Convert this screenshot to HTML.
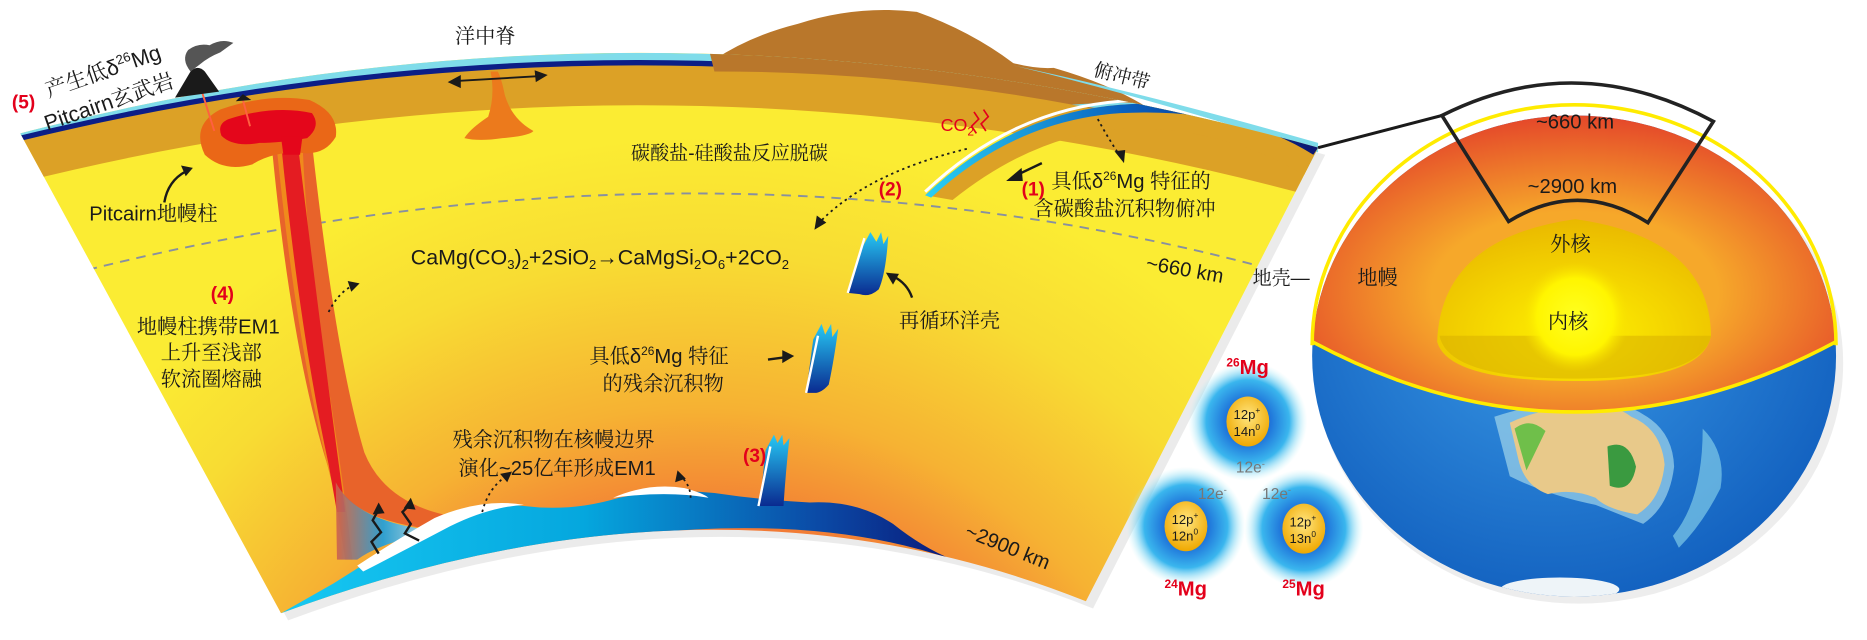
<!DOCTYPE html>
<html><head><meta charset="utf-8"><style>
html,body{margin:0;padding:0;background:#fff;}
svg{display:block}
text{font-family:"Liberation Sans","Noto Sans CJK SC",sans-serif;fill:#1a1a1a}
.cn{font-family:"Liberation Sans","Noto Serif CJK SC","Noto Sans CJK SC",serif}
.red{fill:#e3001b;font-weight:bold}
</style></head><body>
<svg width="1867" height="640" viewBox="0 0 1568 537.5" preserveAspectRatio="none" xmlns="http://www.w3.org/2000/svg">
<defs>
<radialGradient id="mant" cx="590" cy="760" r="760" gradientUnits="userSpaceOnUse">
<stop offset="0.3" stop-color="#ee3b3b"/>
<stop offset="0.42" stop-color="#f27a35"/>
<stop offset="0.55" stop-color="#f6b233"/>
<stop offset="0.72" stop-color="#f8dc33"/>
<stop offset="0.85" stop-color="#fbec33"/>
</radialGradient>
<linearGradient id="pile" x1="0" x2="1" y1="0" y2="0">
<stop offset="0" stop-color="#17c8f2"/><stop offset="0.45" stop-color="#05a7de"/><stop offset="0.8" stop-color="#0b4aa6"/><stop offset="1" stop-color="#0a1a7a"/>
</linearGradient>
<linearGradient id="slabg" x1="0" x2="1"><stop offset="0" stop-color="#2ad0f5"/><stop offset="0.5" stop-color="#0a63c0"/><stop offset="1" stop-color="#0b1670"/></linearGradient>
<linearGradient id="frag" x1="0" x2="0" y1="0" y2="1"><stop offset="0" stop-color="#27c9f4"/><stop offset="1" stop-color="#0a2a90"/></linearGradient>
<linearGradient id="plumeblue" x1="0" x2="1"><stop offset="0" stop-color="#d0604a"/><stop offset="0.45" stop-color="#1a9ee0"/><stop offset="1" stop-color="#d9eef7"/></linearGradient>
<radialGradient id="globeIn" cx="0.5" cy="0.6" r="0.6"><stop offset="0.45" stop-color="#f6a82a"/><stop offset="1" stop-color="#e4452a"/></radialGradient>
<radialGradient id="outerCore" cx="0.5" cy="0.7" r="0.7"><stop offset="0" stop-color="#fff200"/><stop offset="1" stop-color="#e9b800"/></radialGradient>
<radialGradient id="innerCore" cx="0.5" cy="0.5" r="0.5"><stop offset="0" stop-color="#ffff20"/><stop offset="0.7" stop-color="#fff500"/><stop offset="1" stop-color="#f6dd00" stop-opacity="0"/></radialGradient>
<radialGradient id="ocean" cx="0.45" cy="0.4" r="0.7"><stop offset="0" stop-color="#3a9ae6"/><stop offset="1" stop-color="#0b56b8"/></radialGradient>
<radialGradient id="atom" cx="0.5" cy="0.5" r="0.5"><stop offset="0.35" stop-color="#1d6fd8"/><stop offset="0.7" stop-color="#3ab6ee"/><stop offset="1" stop-color="#b8f2f8" stop-opacity="0"/></radialGradient>
<radialGradient id="nuc" cx="0.5" cy="0.4" r="0.6"><stop offset="0" stop-color="#ffe680"/><stop offset="1" stop-color="#f0a800"/></radialGradient>
<clipPath id="sec"><path d="M17,112 Q560,-29 1107,124 L912,505 Q600,380 236,515 Z"/></clipPath>
<clipPath id="glob"><ellipse cx="1322" cy="299" rx="220" ry="202"/></clipPath>
</defs>

<path d="M17,112 Q560,-29 1107,124 L912,505 Q600,380 236,515 Z" fill="#000" opacity="0.08" transform="translate(6,6)"/>
<path d="M600,50 Q630,30 670,20 Q720,4 770,10 Q815,26 851,53 Q870,58 885,57 Q930,70 960,88 L960,100 Q780,40 600,60 Z" fill="#b9772b"/>
<path d="M851,55 Q960,78 1107,120 L1107,128 Q990,90 880,62 Z" fill="#7fdcea"/>
<g clip-path="url(#sec)">
<rect x="0" y="0" width="1120" height="540" fill="url(#mant)"/>
<path d="M0,140 Q560,-3 1120,152" stroke="#dca126" stroke-width="34" fill="none"/>
<path d="M0,120 Q560,-21 1120,132" stroke="#0c1e86" stroke-width="5" fill="none"/>
<path d="M0,115 Q560,-26 1120,127" stroke="#7fdcea" stroke-width="6" fill="none"/>
<path d="M595,40 Q780,20 960,80 L1000,92 L960,100 Q780,60 600,60 Z" fill="#b9772b"/>
<path d="M1107,110 L1107,140 Q1040,96 945,94 L900,88 Q1000,80 1107,110 Z" fill="#7fdcea"/>
<path d="M1107,124 Q1040,80 941,88 Q850,95 777,164 L800,168 Q870,112 945,108 Q1030,106 1100,150 Z" fill="#dca126"/>
<path d="M1107,124 Q1040,80 941,88 Q850,95 777,164 L782,166 Q852,101 941,95 Q1040,90 1103,130 Z" fill="url(#slabg)"/>
<path d="M1107,121 Q1040,77 941,85 Q850,92 777,161" stroke="#fff" stroke-width="2.5" fill="none"/>
<path d="M60,230 Q580,98 1060,224" stroke="#8890a0" stroke-width="1.6" stroke-dasharray="8,6" fill="none"/>
<path d="M228,120 Q245,300 278,400 Q295,442 385,446 L372,432 Q322,420 306,380 Q282,300 262,120 Z" fill="#e8632a"/>
<path d="M232,120 Q250,300 280,410 L290,470 L296,470 Q288,400 272,300 Q258,210 254,120 Z" fill="#f08a1c"/>
<path d="M236,120 Q252,280 276,390 L283,430 L290,430 Q272,300 250,120 Z" fill="#e41c22"/>
<path d="M283,470 L282,405 Q300,440 370,446 Q320,455 300,470 Z" fill="url(#plumeblue)" opacity="0.9"/>
<path d="M280,490 Q320,465 360,440 Q400,420 440,425 Q480,430 520,418 Q560,410 600,414 Q640,420 680,422 Q720,420 750,440 Q775,460 800,470 Q600,400 236,515 Z" fill="url(#pile)"/>
<path d="M300,475 Q335,452 365,435 Q405,418 440,424 Q410,426 378,442 Q340,462 305,480 Z" fill="#fff"/>
<path d="M515,418 Q545,405 575,410 Q590,414 595,418 Q560,412 515,418 Z" fill="#fff"/>
<path d="M185,92 Q225,78 260,84 Q285,95 282,115 Q272,132 250,128 Q228,128 212,138 Q188,145 172,130 Q160,105 185,92 Z" fill="#ea6717"/>
<path d="M192,100 Q230,88 262,95 Q270,106 258,116 Q235,120 218,120 Q196,124 186,114 Q182,104 192,100 Z" fill="#e4061b"/>
<path d="M236,115 L238,130 L252,130 L254,115 Z" fill="#e4061b"/>
<line x1="168" y1="72" x2="180" y2="110" stroke="#ff6040" stroke-width="1.6"/>
<line x1="204" y1="84" x2="210" y2="106" stroke="#ff6040" stroke-width="1.6"/>
<path d="M412,60 Q416,80 410,98 Q395,108 390,116 Q402,119 422,116 Q445,114 448,110 Q430,100 424,80 Q421,65 418,60 Z" fill="#ec7a1c"/>
<path d="M722,212 L731,195 L736,203 L740,195 L742,205 L746,198 Q744,230 738,243 Q730,250 722,247 L712,246 Z" fill="url(#frag)"/>
<path d="M712,246 L726,200" stroke="#fff" stroke-width="2"/>
<path d="M683,285 L690,272 L693,281 L698,272 L699,283 L704,276 Q700,305 696,323 Q690,330 684,330 L677,330 Z" fill="url(#frag)"/>
<path d="M677,330 L687,282" stroke="#fff" stroke-width="2"/>
<path d="M643,378 L650,365 L653,372 L657,365 L658,374 L663,368 Q660,395 658,425 L638,425 Z" fill="url(#frag)"/>
<path d="M637,425 L647,375" stroke="#fff" stroke-width="2"/>
</g>

<path d="M147,82 L160,60 Q166,54 172,60 L184,77 Z" fill="#1a1a1a"/>
<path d="M198,85 L204,79 L211,84 Z" fill="#1a1a1a"/>
<path d="M160,60 Q152,50 158,42 Q166,36 176,38 Q186,32 196,36 L185,44 Q175,48 168,54 Z" fill="#555"/>
<path d="M384,68 L452,64" stroke="#1a1a1a" stroke-width="1.6"/>
<path d="M376,69 L387,63 L387,74 Z M460,63 L449,59 L450,69 Z" fill="#1a1a1a"/>
<path d="M875,137 L852,148" stroke="#1a1a1a" stroke-width="2"/>
<path d="M845,152 L858,141 L859,152 Z" fill="#1a1a1a"/>
<path d="M922,100 Q930,115 940,130" stroke="#1a1a1a" stroke-width="1.5" stroke-dasharray="2,3" fill="none"/>
<path d="M944,137 L936,127 L945,126 Z" fill="#1a1a1a"/>
<path d="M812,125 Q730,145 690,185" stroke="#1a1a1a" stroke-width="1.5" stroke-dasharray="2,3" fill="none"/>
<path d="M684,193 L686,181 L694,187 Z" fill="#1a1a1a"/>
<path d="M276,262 Q284,246 296,240" stroke="#1a1a1a" stroke-width="1.5" stroke-dasharray="2,3" fill="none"/>
<path d="M302,238 L292,236 L295,245 Z" fill="#1a1a1a"/>
<path d="M405,430 Q410,410 425,400" stroke="#1a1a1a" stroke-width="1.5" stroke-dasharray="2,3" fill="none"/>
<path d="M430,396 L420,398 L426,405 Z" fill="#1a1a1a"/>
<path d="M580,418 Q580,408 572,400" stroke="#1a1a1a" stroke-width="1.5" stroke-dasharray="2,3" fill="none"/>
<path d="M569,395 L567,405 L576,402 Z" fill="#1a1a1a"/>
<path d="M138,170 Q141,152 156,144" stroke="#1a1a1a" stroke-width="2" fill="none"/>
<path d="M162,141 L152,139 L156,148 Z" fill="#1a1a1a"/>
<path d="M645,302 L660,300" stroke="#1a1a1a" stroke-width="2"/>
<path d="M667,299 L657,294 L657,305 Z" fill="#1a1a1a"/>
<path d="M766,250 Q762,238 750,232" stroke="#1a1a1a" stroke-width="2" fill="none"/>
<path d="M744,229 L750,239 L755,230 Z" fill="#1a1a1a"/>
<path d="M318,465 L312,455 L320,447 L313,437 L318,428" stroke="#1a1a1a" stroke-width="2" fill="none"/>
<path d="M318,422 L313,432 L323,431 Z" fill="#1a1a1a"/>
<path d="M352,454 L340,448 L345,440 L338,430 L344,424" stroke="#1a1a1a" stroke-width="2" fill="none"/>
<path d="M345,418 L339,427 L349,428 Z" fill="#1a1a1a"/>
<text x="790" y="110" font-size="15" style="fill:#e3001b">CO<tspan font-size="10" dy="4">2</tspan></text>
<path d="M820,112 L816,106 L822,100 L818,94 M828,110 L824,104 L830,98 L826,92" stroke="#e3001b" stroke-width="1.4" fill="none"/>

<g transform="rotate(-19 100 70)">
<text class="cn" x="40" y="62" font-size="18">产生低δ<tspan font-size="11" dy="-7">26</tspan><tspan dy="7">Mg</tspan></text>
<text class="cn" x="30" y="88" font-size="18">Pitcairn玄武岩</text>
</g>
<text class="red" x="10" y="91" font-size="16">(5)</text>
<text class="cn" x="382" y="36" font-size="17">洋中脊</text>
<text class="cn" x="918" y="70" font-size="16" transform="rotate(14 945 65)">俯冲带</text>
<text class="cn" x="530" y="134" font-size="16">碳酸盐-硅酸盐反应脱碳</text>
<text class="red" x="738" y="164" font-size="16">(2)</text>
<text class="red" x="858" y="164" font-size="16">(1)</text>
<text class="cn" x="883" y="158" font-size="17">具低δ<tspan font-size="10" dy="-7">26</tspan><tspan dy="7">Mg 特征的</tspan></text>
<text class="cn" x="868" y="181" font-size="17">含碳酸盐沉积物俯冲</text>
<text class="cn" x="75" y="185" font-size="17">Pitcairn地幔柱</text>
<text x="345" y="222" font-size="18">CaMg(CO<tspan font-size="11" dy="4">3</tspan><tspan dy="-4">)</tspan><tspan font-size="11" dy="4">2</tspan><tspan dy="-4">+2SiO</tspan><tspan font-size="11" dy="4">2</tspan><tspan dy="-4">→CaMgSi</tspan><tspan font-size="11" dy="4">2</tspan><tspan dy="-4">O</tspan><tspan font-size="11" dy="4">6</tspan><tspan dy="-4">+2CO</tspan><tspan font-size="11" dy="4">2</tspan></text>
<text x="962" y="232" font-size="17" transform="rotate(10 995 228)">~660 km</text>
<text class="red" x="177" y="252" font-size="16">(4)</text>
<text class="cn" x="115" y="280" font-size="17">地幔柱携带EM1</text>
<text class="cn" x="135" y="302" font-size="17">上升至浅部</text>
<text class="cn" x="135" y="324" font-size="17">软流圈熔融</text>
<text class="cn" x="755" y="275" font-size="17">再循环洋壳</text>
<text class="cn" x="495" y="305" font-size="17">具低δ<tspan font-size="10" dy="-7">26</tspan><tspan dy="7">Mg 特征</tspan></text>
<text class="cn" x="506" y="328" font-size="17">的残余沉积物</text>
<text class="cn" x="380" y="375" font-size="17">残余沉积物在核幔边界</text>
<text class="cn" x="385" y="399" font-size="17">演化~25亿年形成EM1</text>
<text class="red" x="624" y="388" font-size="16">(3)</text>
<text x="805" y="467" font-size="17" transform="rotate(22 850 470)">~2900 km</text>

<path d="M1107,124 L1211,97" stroke="#1a1a1a" stroke-width="2.5"/>

<ellipse cx="1326" cy="305" rx="222" ry="202" fill="#000" opacity="0.07"/>
<g clip-path="url(#glob)">
<rect x="1100" y="95" width="450" height="420" fill="url(#ocean)"/>
<path d="M1255,350 Q1300,335 1330,342 Q1360,335 1380,348 Q1405,362 1406,392 Q1402,425 1380,440 L1340,424 Q1300,416 1268,400 Z" fill="#9fd4ea" opacity="0.7"/>
<path d="M1268,355 Q1300,340 1330,345 Q1355,338 1370,350 Q1395,360 1398,390 Q1395,420 1375,432 Q1350,428 1340,418 Q1320,410 1300,415 Q1280,408 1275,385 Z" fill="#e8c98a"/>
<path d="M1350,375 Q1368,368 1374,392 Q1370,415 1352,408 Z" fill="#3a9a40"/>
<path d="M1272,360 Q1285,350 1298,362 L1282,395 Z" fill="#6fbf4a"/>
<path d="M1430,360 Q1450,380 1445,410 Q1430,440 1410,460 L1405,450 Q1430,420 1430,360 Z" fill="#7fcbe8" opacity="0.7"/>
<ellipse cx="1310" cy="495" rx="50" ry="10" fill="#eef4f8"/>
<path d="M1102,287 Q1322,405 1542,287 L1545,95 L1100,95 Z" fill="url(#globeIn)"/>
<path d="M1207,287 Q1210,200 1323,184 Q1436,200 1437,282 Q1430,320 1323,320 Q1216,320 1207,287 Z" fill="url(#outerCore)"/>
<path d="M1209,282 L1437,282 Q1430,318 1323,318 Q1216,318 1209,282 Z" fill="#d9b000" opacity="0.55"/>
<circle cx="1323" cy="266" r="46" fill="url(#innerCore)"/>
</g>
<path d="M1102,287 Q1322,405 1542,287" stroke="#ffeb00" stroke-width="3" fill="none"/>
<path d="M1102,290 A220,202 0 0 1 1542,290" stroke="#ffeb00" stroke-width="3" fill="none"/>
<path d="M1211,97 Q1324,40 1439,102 L1384,187 Q1326,150 1267,186 Z" fill="none" stroke="#222" stroke-width="3"/>
<text x="1290" y="108" font-size="17">~660 km</text>
<text x="1283" y="162" font-size="17">~2900 km</text>
<text class="cn" x="1302" y="211" font-size="17">外核</text>
<text class="cn" x="1300" y="276" font-size="17">内核</text>
<text class="cn" x="1140" y="239" font-size="17">地幔</text>
<text class="cn" x="1052" y="239" font-size="16">地壳—</text>

<circle cx="1048" cy="354" r="50" fill="url(#atom)"/>
<circle cx="996" cy="442" r="50" fill="url(#atom)"/>
<circle cx="1095" cy="444" r="50" fill="url(#atom)"/>
<ellipse cx="1048" cy="354" rx="18" ry="21" fill="url(#nuc)"/>
<ellipse cx="996" cy="442" rx="18" ry="21" fill="url(#nuc)"/>
<ellipse cx="1095" cy="444" rx="18" ry="21" fill="url(#nuc)"/>
<g font-size="11" fill="#333">
<text x="1036" y="352">12p<tspan font-size="7" dy="-5">+</tspan></text><text x="1036" y="366">14n<tspan font-size="7" dy="-5">0</tspan></text>
<text x="984" y="440">12p<tspan font-size="7" dy="-5">+</tspan></text><text x="984" y="454">12n<tspan font-size="7" dy="-5">0</tspan></text>
<text x="1083" y="442">12p<tspan font-size="7" dy="-5">+</tspan></text><text x="1083" y="456">13n<tspan font-size="7" dy="-5">0</tspan></text>
</g>
<text x="1038" y="397" font-size="13" style="fill:#777">12e<tspan font-size="8" dy="-5">-</tspan></text>
<text x="1006" y="419" font-size="13" style="fill:#777">12e<tspan font-size="8" dy="-5">-</tspan></text>
<text x="1060" y="419" font-size="13" style="fill:#777">12e<tspan font-size="8" dy="-5">-</tspan></text>
<text x="1030" y="314" font-size="17" style="fill:#e3001b;font-weight:bold"><tspan font-size="10" dy="-6">26</tspan><tspan dy="6">Mg</tspan></text>
<text x="978" y="500" font-size="17" style="fill:#e3001b;font-weight:bold"><tspan font-size="10" dy="-6">24</tspan><tspan dy="6">Mg</tspan></text>
<text x="1077" y="500" font-size="17" style="fill:#e3001b;font-weight:bold"><tspan font-size="10" dy="-6">25</tspan><tspan dy="6">Mg</tspan></text>
</svg>
</body></html>
